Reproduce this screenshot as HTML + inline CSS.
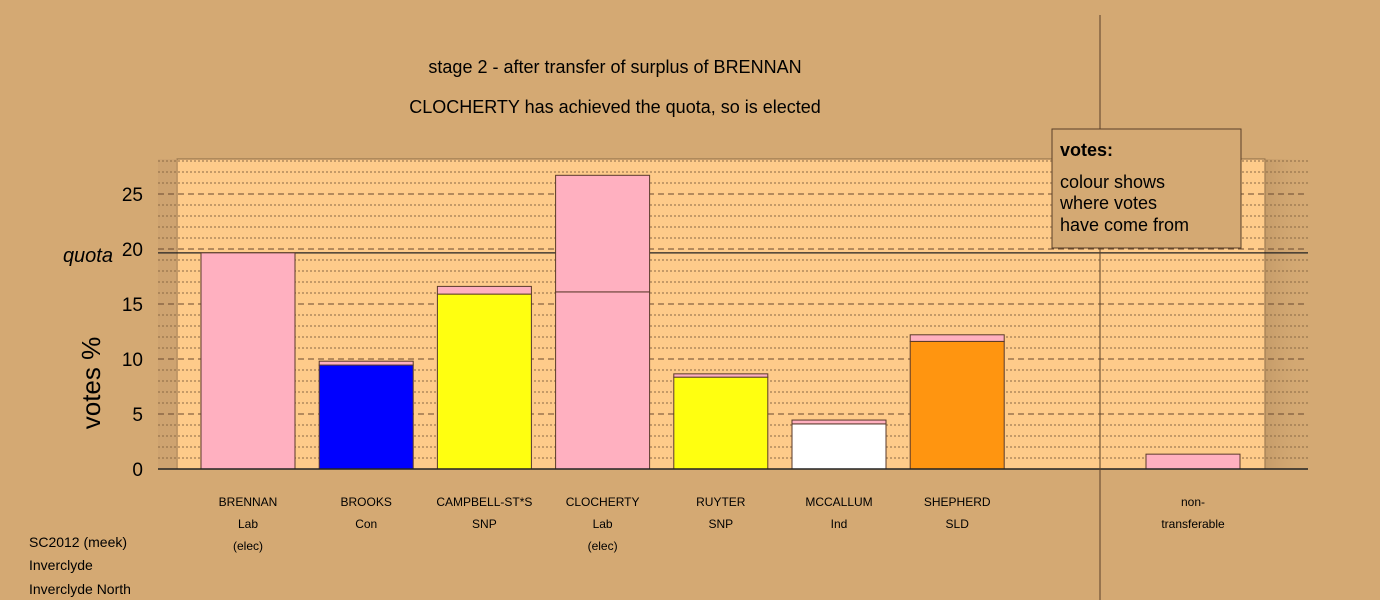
<!DOCTYPE html>
<html><head><meta charset="utf-8"><style>
body{margin:0;background:#d4a973;}
svg{display:block;font-family:"Liberation Sans",Arial,sans-serif;}
</style></head><body>
<svg id="c" width="1380" height="600" viewBox="0 0 1380 600">
<defs><linearGradient id="sh" x1="0" x2="1"><stop offset="0" stop-color="#b78f60" stop-opacity="0.5"/><stop offset="1" stop-color="#d4a973" stop-opacity="0"/></linearGradient></defs>
<rect width="1380" height="600" fill="#d4a973"/>
<rect x="177" y="159" width="1088" height="310" fill="#fecb8a" stroke="#8a6a45"/>
<rect x="1266" y="159" width="42" height="310" fill="url(#sh)"/>
<rect x="158" y="159" width="19" height="310" fill="#c9a06e" opacity="0.6"/>
<g id="grid"></g>
<g id="bars"></g>
<g id="axis"></g>
<g id="xl"></g>
<line x1="1100" y1="15" x2="1100" y2="600" stroke="#5a4028" stroke-width="1"/>
<text x="615" y="73" font-size="18" text-anchor="middle">stage 2 - after transfer of surplus of BRENNAN</text>
<text x="615" y="113" font-size="18" text-anchor="middle">CLOCHERTY has achieved the quota, so is elected</text>
<text x="100" y="383" font-size="26" text-anchor="middle" transform="rotate(-90 100 383)">votes %</text>
<g>
<rect x="1052" y="129" width="189" height="119" fill="#d4a973" stroke="#5a4028"/>
<text x="1060" y="156" font-size="18" font-weight="bold">votes:</text>
<text x="1060" y="188" font-size="18">colour shows</text>
<text x="1060" y="209" font-size="18">where votes</text>
<text x="1060" y="231" font-size="18">have come from</text>
</g>
<g font-size="14">
<text x="29" y="547">SC2012 (meek)</text>
<text x="29" y="570">Inverclyde</text>
<text x="29" y="594">Inverclyde North</text>
</g>
</svg>
<script>
const names=["BRENNAN","BROOKS","CAMPBELL-ST*S","CLOCHERTY","RUYTER","MCCALLUM","SHEPHERD","non-"];
const parties=["Lab","Con","SNP","Lab","SNP","Ind","SLD","transferable"];
const status=["(elec)","","","(elec)","","","",""];
const baseVotes=[0,9.45,15.9,16.1,8.35,4.1,11.6,0];
const transferVotes=[19.65,0.35,0.7,10.6,0.3,0.35,0.6,1.35];
const baseColors=["#ffb0c0","#0000ff","#ffff10","#ffb0c0","#ffff10","#ffffff","#ff9510","#ffb0c0"];
const yTicks=[0,5,10,15,20,25];
const quota=19.65;
const yMax=28.2;
const NS="http://www.w3.org/2000/svg";
const y=v=>469-v*11;
const xc=i=>i<7?248+i*118.2:1193;
function el(t,a,p){const e=document.createElementNS(NS,t);for(const k in a)e.setAttribute(k,a[k]);p.appendChild(e);return e;}
const g=document.getElementById('grid');
for(let v=1;v<=28;v++){
  const major=v%5===0;
  const l=el('line',{x1:158,x2:1308,y1:y(v),y2:y(v),stroke:major?'#6a4a30':'#8a6a45','stroke-width':1,'stroke-dasharray':major?'6,4':'2,2'},g);
  
  
}
const q=el('line',{x1:158,x2:1308,y1:y(quota),y2:y(quota),stroke:'#222','stroke-width':1.3},g);


const b=document.getElementById('bars');
for(let i=0;i<names.length;i++){
  const x=xc(i)-47;
  if(baseVotes[i]>0){
    const r=el('rect',{x:x,y:y(baseVotes[i]),width:94,height:baseVotes[i]*11,fill:baseColors[i],stroke:'#5a3a2a','stroke-width':1},b);
    
    
  }
  const tot=baseVotes[i]+transferVotes[i];
  const r2=el('rect',{x:x,y:y(tot),width:94,height:transferVotes[i]*11,fill:'#ffb0c0',stroke:'#5a3a2a','stroke-width':1},b);
  
  
}
const ax=document.getElementById('axis');
el('line',{x1:158,x2:1308,y1:469,y2:469,stroke:'#222','stroke-width':1.5},ax);
for(const t of yTicks){
  const tx=el('text',{x:143,y:y(t)+7,'font-size':19,'text-anchor':'end'},ax);
  tx.textContent=t;
  
  
}
const ql=el('text',{x:113,y:y(quota)+9,'font-size':20,'font-style':'italic','text-anchor':'end'},ax);
ql.textContent='quota';


const xl=document.getElementById('xl');
for(let i=0;i<names.length;i++){
  const rows=[names[i],parties[i],status[i]];
  rows.forEach((s,k)=>{
    if(!s)return;
    const t=el('text',{x:xc(i),y:506+k*22,'font-size':12,'text-anchor':'middle'},xl);
    t.textContent=s;
    
    
  });
}
</script>
</body></html>
